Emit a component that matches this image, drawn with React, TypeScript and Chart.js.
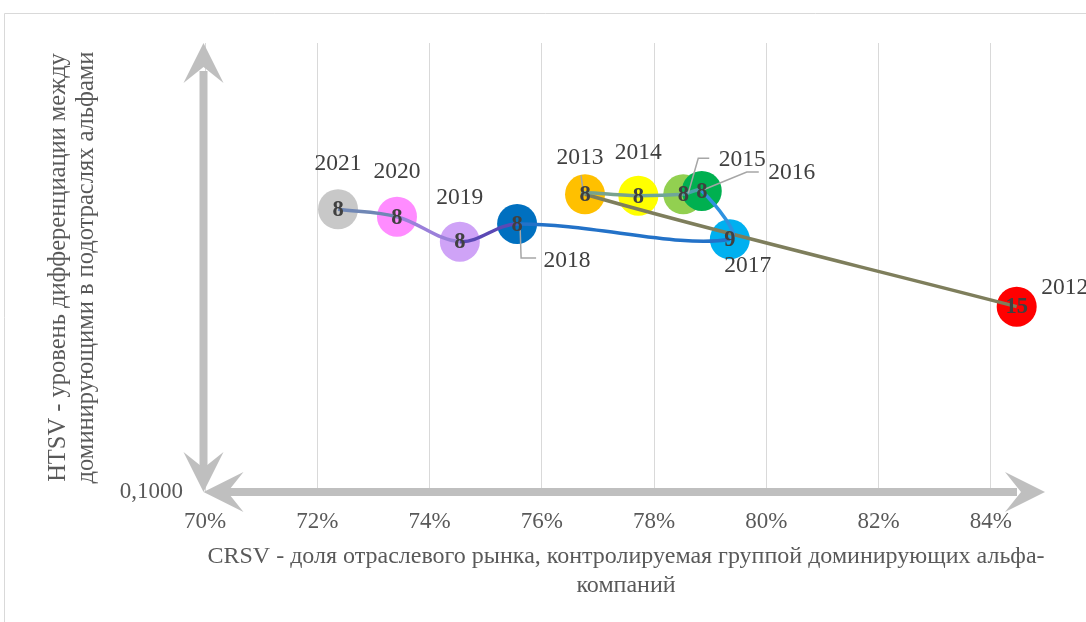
import React, { useEffect, useRef } from "react";
import { Chart, registerables } from "chart.js";

Chart.register(...registerables);

// ---- data ----
const years = ["2012", "2013", "2014", "2015", "2016", "2017", "2018", "2019", "2020", "2021"];
const crsvPercent = [84.46, 76.77, 77.72, 78.52, 78.85, 79.35, 75.56, 74.54, 73.42, 72.37];
const htsv = [0.2587, 0.4603, 0.457, 0.4603, 0.4682, 0.3654, 0.3953, 0.361, 0.4103, 0.4263];
const bubbleNumbers = ["15", "8", "8", "8", "8", "9", "8", "8", "8", "8"];
const xTickMin = 70;
const xTickMax = 85;
const xTickStep = 2;
const yMin = 0.1;
const yMax = 1;
const yTickLabel = "0,1000";
const xTitle = [
  "CRSV - доля отраслевого рынка, контролируемая группой доминирующих альфа-",
  "компаний",
];
const yTitle = [
  "HTSV - уровень дифференциации между",
  "доминирующими в подотраслях альфами",
];

// ---- styles ----
const bubbleColors = [
  "#ff0000", "#ffc000", "#ffff00", "#92d050", "#00b050",
  "#00b0f0", "#0070c0", "#cfa3f7", "#ff8cff", "#c8c8c8",
];
const segmentColors = [
  "#7e7e5c", "#78a38e", "#6fa59a", "#4aa0a8", "#2e92e0",
  "#2372c8", "#5b49b5", "#9b80da", "#7087b5",
];
const labelOffsets: [number, number][] = [
  [48, -19], [-5, -36], [0, -43], [59, -34], [90, -18],
  [18, 27], [50, 37], [0, -44], [0, -45], [0, -45],
];
const leaderLines: ([number, number][] | null)[] = [
  null,
  [[-4, -19], [-2, -4]],
  null,
  [[26, -36], [15, -36], [5, -1]],
  [[57, -19], [45, -19], [1, -1]],
  null,
  [[3, 3], [4, 34], [19, 34]],
  null,
  null,
  null,
];
const FONT = "'Liberation Serif', 'Times New Roman', serif";
const BUBBLE_R = 20;

const overlayPlugin = {
  id: "overlay",
  beforeDraw(chart: any) {
    const { ctx, width, height } = chart;
    ctx.save();
    ctx.fillStyle = "#ffffff";
    ctx.fillRect(0, 0, width, height);
    ctx.strokeStyle = "#d9d9d9";
    ctx.lineWidth = 1;
    ctx.beginPath();
    ctx.moveTo(4.5, height);
    ctx.lineTo(4.5, 13.5);
    ctx.lineTo(width, 13.5);
    ctx.stroke();
    ctx.restore();
  },
  beforeDatasetsDraw(chart: any) {
    const { ctx, chartArea } = chart;
    const x0 = chart.scales.x.getPixelForValue(xTickMin) - 1.5;
    const y0 = chartArea.bottom;
    const yTop = chartArea.top;
    const xRight = chartArea.right - 2;
    const col = "#bfbfbf";
    ctx.save();
    ctx.strokeStyle = col;
    ctx.fillStyle = col;
    ctx.lineWidth = 8;
    ctx.lineCap = "butt";
    ctx.beginPath();
    ctx.moveTo(x0, yTop + 28);
    ctx.lineTo(x0, y0 - 20);
    ctx.moveTo(x0 + 20, y0);
    ctx.lineTo(xRight - 28, y0);
    ctx.stroke();
    const head = (tx: number, ty: number, dx: number, dy: number) => {
      const px = -dy, py = dx;
      const L = 40, W = 20, N = 24;
      ctx.beginPath();
      ctx.moveTo(tx, ty);
      ctx.lineTo(tx - dx * L + px * W, ty - dy * L + py * W);
      ctx.lineTo(tx - dx * N, ty - dy * N);
      ctx.lineTo(tx - dx * L - px * W, ty - dy * L - py * W);
      ctx.closePath();
      ctx.fill();
    };
    head(x0, yTop, 0, -1);
    head(x0, y0, 0, 1);
    head(x0, y0, -1, 0);
    head(xRight, y0, 1, 0);
    ctx.restore();
  },
  afterDatasetsDraw(chart: any) {
    const { ctx } = chart;
    const meta = chart.getDatasetMeta(1);
    ctx.save();
    ctx.strokeStyle = "#a6a6a6";
    ctx.lineWidth = 1.5;
    meta.data.forEach((el: any, i: number) => {
      const pts = leaderLines[i];
      if (!pts) return;
      ctx.beginPath();
      pts.forEach(([dx, dy], k) => {
        if (k === 0) ctx.moveTo(el.x + dx, el.y + dy);
        else ctx.lineTo(el.x + dx, el.y + dy);
      });
      ctx.stroke();
    });
    ctx.fillStyle = "#404040";
    ctx.textAlign = "center";
    ctx.textBaseline = "middle";
    ctx.font = `bold 22.5px ${FONT}`;
    meta.data.forEach((el: any, i: number) => {
      ctx.fillText(bubbleNumbers[i], el.x, el.y + 1);
    });
    ctx.font = `23.5px ${FONT}`;
    meta.data.forEach((el: any, i: number) => {
      const [dx, dy] = labelOffsets[i];
      ctx.fillText(years[i], el.x + dx, el.y + dy);
    });
    ctx.restore();
  },
};

export default function App() {
  const ref = useRef<HTMLCanvasElement | null>(null);
  useEffect(() => {
    if (!ref.current) return;
    const points = crsvPercent.map((x, i) => ({ x, y: htsv[i] }));
    const chart = new Chart(ref.current, {
      type: "bubble",
      data: {
        datasets: [
          {
            type: "line",
            data: points,
            order: 0,
            borderWidth: 3.5,
            pointRadius: 0,
            tension: 0.35,
            fill: false,
            segment: {
              borderColor: (c: any) => segmentColors[c.p0DataIndex],
            },
          } as any,
          {
            type: "bubble",
            data: points.map((p) => ({ ...p, r: BUBBLE_R })),
            order: 1,
            backgroundColor: bubbleColors,
            borderWidth: 0,
          } as any,
        ],
      },
      options: {
        animation: false,
        responsive: false,
        devicePixelRatio: 1,
        events: [],
        layout: { padding: { left: 0, top: 43, right: 39, bottom: 22 } },
        plugins: { legend: { display: false }, tooltip: { enabled: false } },
        scales: {
          x: {
            type: "linear",
            min: xTickMin,
            max: xTickMax,
            grid: { color: "#d9d9d9", lineWidth: 1, drawTicks: false },
            border: { display: false },
            ticks: {
              stepSize: xTickStep,
              includeBounds: false,
              autoSkip: false,
              maxRotation: 0,
              padding: 16,
              color: "#595959",
              font: { family: FONT, size: 23 },
              callback: (v: any) => `${v}%`,
            },
            afterFit: (s: any) => {
              s.height = 108;
            },
            title: {
              display: true,
              text: xTitle,
              color: "#595959",
              font: { family: FONT, size: 24, lineHeight: "29px" },
              padding: { top: 0, bottom: 0 },
            },
          },
          y: {
            type: "logarithmic",
            min: yMin,
            max: yMax,
            grid: { display: false },
            border: { display: false },
            afterBuildTicks: (s: any) => {
              s.ticks = [{ value: yMin }];
            },
            ticks: {
              padding: 14,
              color: "#595959",
              font: { family: FONT, size: 23 },
              callback: () => yTickLabel,
            },
            afterFit: (s: any) => {
              s.width = 205;
            },
            title: {
              display: true,
              text: yTitle,
              color: "#595959",
              font: { family: FONT, size: 24.5, lineHeight: "28px" },
              padding: { top: 45, bottom: 0 },
            },
          },
        },
      } as any,
      plugins: [overlayPlugin],
    });
    return () => chart.destroy();
  }, []);
  return (
    <div style={{ position: "fixed", left: 0, top: 0, width: 1086, height: 622, background: "#fff", overflow: "hidden" }}>
      <canvas ref={ref} width={1086} height={622} style={{ display: "block" }} />
    </div>
  );
}
